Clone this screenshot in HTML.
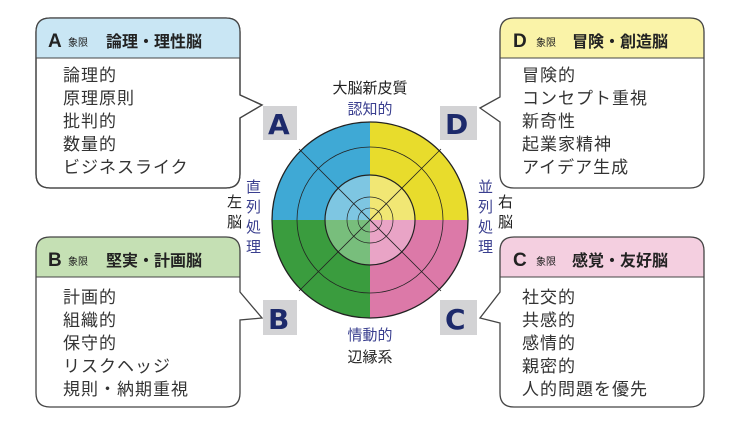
<!DOCTYPE html>
<html><head><meta charset="utf-8"><style>
html,body{margin:0;padding:0;background:#fff;}
svg{display:block;font-family:"Liberation Sans","Noto Sans CJK JP",sans-serif;}
.t{font-size:17px;fill:#333;letter-spacing:1px}
.h{font-size:16px;font-weight:bold;fill:#222}
.s{font-size:10px;fill:#222}
.L{font-size:28px;font-weight:bold;fill:#1d2a6b;font-family:"DejaVu Sans",sans-serif}
.b{font-size:15px;fill:#3a3f8f}
.k{font-size:15px;fill:#222}
</style></head><body>
<svg width="740" height="428" viewBox="0 0 740 428">
<!-- A box -->
<path d="M50,18 H226 Q240,18 240,32 V95 L262,105 L240,118 V174 Q240,188 226,188 H50 Q36,188 36,174 V32 Q36,18 50,18Z" fill="#fff" stroke="#444" stroke-width="1.3"/>
<path d="M50,18 H226 Q240,18 240,32 V58 H36 V32 Q36,18 50,18Z" fill="#c9e6f4"/>
<path d="M50,18 H226 Q240,18 240,32 V95 L262,105 L240,118 V174 Q240,188 226,188 H50 Q36,188 36,174 V32 Q36,18 50,18Z" fill="none" stroke="#444" stroke-width="1.3"/>
<line x1="36" y1="58" x2="240" y2="58" stroke="#444"/>
<text x="48" y="47" class="h" style="font-size:19px">A</text><text x="68" y="46" class="s">象限</text><text x="106" y="47" class="h">論理・理性脳</text>
<text class="t" x="63" y="81">論理的</text><text class="t" x="63" y="104">原理原則</text><text class="t" x="63" y="127">批判的</text><text class="t" x="63" y="150">数量的</text><text class="t" x="63" y="173">ビジネスライク</text>

<!-- D box -->
<path d="M514,18 H690 Q704,18 704,32 V174 Q704,188 690,188 H514 Q500,188 500,174 V122 L480,108 L500,97 V32 Q500,18 514,18Z" fill="#fff"/>
<path d="M514,18 H690 Q704,18 704,32 V58 H500 V32 Q500,18 514,18Z" fill="#faf3a8"/>
<path d="M514,18 H690 Q704,18 704,32 V174 Q704,188 690,188 H514 Q500,188 500,174 V122 L480,108 L500,97 V32 Q500,18 514,18Z" fill="none" stroke="#444" stroke-width="1.3"/>
<line x1="500" y1="58" x2="704" y2="58" stroke="#444"/>
<text x="513" y="47" class="h" style="font-size:19px">D</text><text x="536" y="46" class="s">象限</text><text x="572" y="47" class="h">冒険・創造脳</text>
<text class="t" x="522" y="81">冒険的</text><text class="t" x="522" y="104">コンセプト重視</text><text class="t" x="522" y="127">新奇性</text><text class="t" x="522" y="150">起業家精神</text><text class="t" x="522" y="173">アイデア生成</text>

<!-- B box -->
<path d="M50,237 H226 Q240,237 240,251 V292 L262,318 L240,320 V393 Q240,407 226,407 H50 Q36,407 36,393 V251 Q36,237 50,237Z" fill="#fff"/>
<path d="M50,237 H226 Q240,237 240,251 V277 H36 V251 Q36,237 50,237Z" fill="#c5e0b4"/>
<path d="M50,237 H226 Q240,237 240,251 V292 L262,318 L240,320 V393 Q240,407 226,407 H50 Q36,407 36,393 V251 Q36,237 50,237Z" fill="none" stroke="#444" stroke-width="1.3"/>
<line x1="36" y1="277" x2="240" y2="277" stroke="#444"/>
<text x="48" y="266" class="h" style="font-size:19px">B</text><text x="68" y="265" class="s">象限</text><text x="106" y="266" class="h">堅実・計画脳</text>
<text class="t" x="63" y="303">計画的</text><text class="t" x="63" y="326">組織的</text><text class="t" x="63" y="349">保守的</text><text class="t" x="63" y="372">リスクヘッジ</text><text class="t" x="63" y="395">規則・納期重視</text>

<!-- C box -->
<path d="M514,237 H690 Q704,237 704,251 V393 Q704,407 690,407 H514 Q500,407 500,393 V323 L480,318 L500,292 V251 Q500,237 514,237Z" fill="#fff"/>
<path d="M514,237 H690 Q704,237 704,251 V277 H500 V251 Q500,237 514,237Z" fill="#f4cfe0"/>
<path d="M514,237 H690 Q704,237 704,251 V393 Q704,407 690,407 H514 Q500,407 500,393 V323 L480,318 L500,292 V251 Q500,237 514,237Z" fill="none" stroke="#444" stroke-width="1.3"/>
<line x1="500" y1="277" x2="704" y2="277" stroke="#444"/>
<text x="513" y="266" class="h" style="font-size:19px">C</text><text x="536" y="265" class="s">象限</text><text x="572" y="266" class="h">感覚・友好脳</text>
<text class="t" x="522" y="303">社交的</text><text class="t" x="522" y="326">共感的</text><text class="t" x="522" y="349">感情的</text><text class="t" x="522" y="372">親密的</text><text class="t" x="522" y="395">人的問題を優先</text>

<!-- circle -->
<path d="M370,220 V122 A98,98 0 0 0 272,220Z" fill="#3fa9d5"/>
<path d="M370,220 V122 A98,98 0 0 1 468,220Z" fill="#e8dc2c"/>
<path d="M370,220 H272 A98,98 0 0 0 370,318Z" fill="#3a9c3e"/>
<path d="M370,220 H468 A98,98 0 0 1 370,318Z" fill="#dc79a8"/>
<path d="M370,220 V175 A45,45 0 0 0 325,220Z" fill="#7ec6e2"/>
<path d="M370,220 V175 A45,45 0 0 1 415,220Z" fill="#f1e774"/>
<path d="M370,220 H325 A45,45 0 0 0 370,265Z" fill="#78be7c"/>
<path d="M370,220 H415 A45,45 0 0 1 370,265Z" fill="#e9a4c6"/>
<g fill="none" stroke="#222">
<circle cx="370" cy="220" r="98" stroke-width="1.3"/>
<circle cx="370" cy="220" r="73" stroke-width="0.8"/>
<circle cx="370" cy="220" r="45" stroke-width="1.2"/>
<circle cx="370" cy="220" r="23" stroke-width="0.7"/>
<circle cx="370" cy="220" r="12" stroke-width="0.6"/>
<line x1="299" y1="149" x2="441" y2="291" stroke-width="0.8"/>
<line x1="441" y1="149" x2="299" y2="291" stroke-width="0.8"/>
</g>
<!-- letter boxes -->
<rect x="263" y="106" width="34" height="34" fill="#d3d3d5"/><text x="268" y="134" class="L">A</text>
<rect x="440" y="106" width="37" height="34" fill="#d3d3d5"/><text x="445" y="134" class="L">D</text>
<rect x="263" y="300" width="34" height="35" fill="#d3d3d5"/><text x="268" y="329" class="L">B</text>
<rect x="440" y="300" width="37" height="35" fill="#d3d3d5"/><text x="445" y="329" class="L">C</text>
<!-- labels -->
<text x="370" y="93" class="k" text-anchor="middle">大脳新皮質</text>
<text x="370" y="114" class="b" text-anchor="middle">認知的</text>
<text x="370" y="340" class="b" text-anchor="middle">情動的</text>
<text x="370" y="362" class="k" text-anchor="middle">辺縁系</text>
<g class="b"><text x="246" y="192">直</text><text x="246" y="212">列</text><text x="246" y="232">処</text><text x="246" y="252">理</text></g>
<g class="k"><text x="227" y="207">左</text><text x="227" y="227">脳</text></g>
<g class="b"><text x="478" y="192">並</text><text x="478" y="212">列</text><text x="478" y="232">処</text><text x="478" y="252">理</text></g>
<g class="k"><text x="498" y="207">右</text><text x="498" y="227">脳</text></g>
</svg>
</body></html>
